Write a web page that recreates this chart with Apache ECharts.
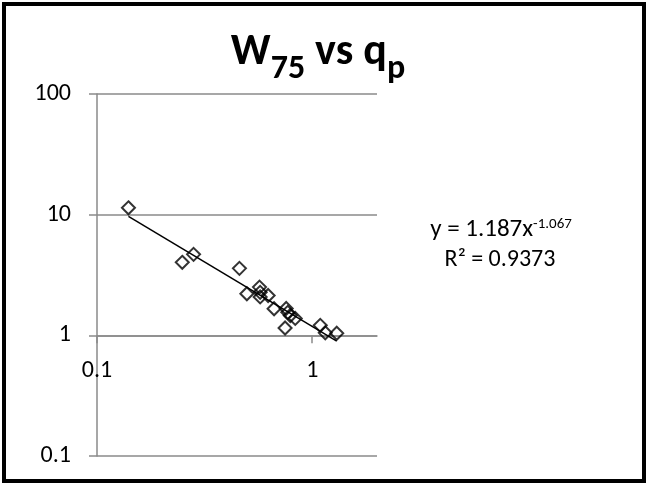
<!DOCTYPE html>
<html>
<head>
<meta charset="utf-8">
<script src="https://cdn.jsdelivr.net/npm/echarts@6/dist/echarts.min.js"></script>
<style>
  html, body { margin: 0; padding: 0; background: #fff; }
  #chart { width: 648px; height: 485px; }
</style>
</head>
<body>
<div id="chart"></div>
<script>
// Peak discharge q_p and width W75 for each event
const qp  = [0.140, 0.281, 0.249, 0.459, 0.497, 0.569, 0.573, 0.573, 0.624, 0.665, 0.757, 0.770, 0.791, 0.834, 0.748, 1.09, 1.15, 1.30];
const w75 = [11.4, 4.69, 4.03, 3.59, 2.21, 2.51, 2.27, 2.08, 2.14, 1.66, 1.67, 1.55, 1.46, 1.38, 1.15, 1.21, 1.05, 1.04];

// Power-law fit y = a * x^b
const fitA = 1.187;
const fitB = -1.067;
const fitR2 = '0.9373';

const xTicks = [0.1, 1];
const yTicks = [0.1, 1, 10, 100];

const FONT = 'Carlito, Lato, sans-serif';
const GRID = '#8a8a8a';

const points = qp.map((x, i) => [x, w75[i]]);
const xLo = Math.min(...qp), xHi = Math.max(...qp);
const fitLine = [[xLo, fitA * Math.pow(xLo, fitB)], [xHi, fitA * Math.pow(xHi, fitB)]];

const gridTop = 94, gridBottom = 29, gridLeft = 97, gridRight = 271;
const plotH = 485 - gridTop - gridBottom;

const chart = echarts.init(document.getElementById('chart'), null, { renderer: 'canvas' });
chart.setOption({
  animation: false,
  backgroundColor: '#fff',
  title: {
    text: '{a|W}{s|75}{a| vs q}{s|p}',
    left: 313,
    textAlign: 'center',
    top: 15,
    textStyle: {
      rich: {
        a: { fontFamily: FONT, fontWeight: 'bold', fontSize: 44, lineHeight: 66, color: '#000' },
        s: { fontFamily: FONT, fontWeight: 'bold', fontSize: 34, lineHeight: 66, verticalAlign: 'bottom', color: '#000' }
      }
    }
  },
  grid: { left: gridLeft, right: gridRight, top: gridTop, bottom: gridBottom, containLabel: false },
  xAxis: {
    type: 'log',
    logBase: 10,
    min: xTicks[0],
    max: 2,
    // horizontal axis crosses the vertical one at y = 1
    offset: -plotH / 3,
    axisLine: { lineStyle: { color: GRID, width: 1.5 } },
    axisTick: { show: true, length: 8, lineStyle: { color: GRID, width: 1.5 } },
    axisLabel: { fontFamily: FONT, fontSize: 24, color: '#000', margin: 24, showMaxLabel: false },
    splitLine: { show: false },
    minorTick: { show: false }
  },
  yAxis: {
    type: 'log',
    logBase: 10,
    min: yTicks[0],
    max: yTicks[yTicks.length - 1],
    axisLine: { show: true, lineStyle: { color: GRID, width: 1.5 } },
    axisTick: { show: true, length: 8, lineStyle: { color: GRID, width: 1.5 } },
    axisLabel: { fontFamily: FONT, fontSize: 24, color: '#000', margin: 26 },
    splitLine: { show: true, lineStyle: { color: GRID, width: 1.5 } }
  },
  series: [
    {
      type: 'line',
      data: fitLine,
      showSymbol: false,
      symbol: 'none',
      lineStyle: { color: '#000', width: 1.5 },
      z: 2
    },
    {
      type: 'scatter',
      data: points,
      symbol: 'diamond',
      symbolSize: 13,
      itemStyle: { color: 'rgba(0,0,0,0)', borderColor: '#000', borderWidth: 2 },
      z: 3
    }
  ],
  graphic: [
    {
      type: 'rect',
      shape: { x: 4, y: 4, width: 640, height: 477 },
      style: { fill: 'none', stroke: '#000', lineWidth: 4 },
      silent: true
    },
    {
      type: 'text',
      x: 501,
      y: 214,
      style: {
        text: '{m|y = ' + fitA.toFixed(3) + 'x}{e|' + fitB.toFixed(3) + '}',
        align: 'center',
        rich: {
          m: { fontFamily: FONT, fontSize: 25, lineHeight: 31, fill: '#000' },
          e: { fontFamily: FONT, fontSize: 15, verticalAlign: 'top', padding: [3, 0, 0, 0], fill: '#000' }
        }
      }
    },
    {
      type: 'text',
      x: 500,
      y: 248,
      style: {
        text: 'R² = ' + fitR2,
        align: 'center',
        fontFamily: FONT,
        fontSize: 24,
        fill: '#000'
      }
    }
  ]
});
</script>
</body>
</html>
